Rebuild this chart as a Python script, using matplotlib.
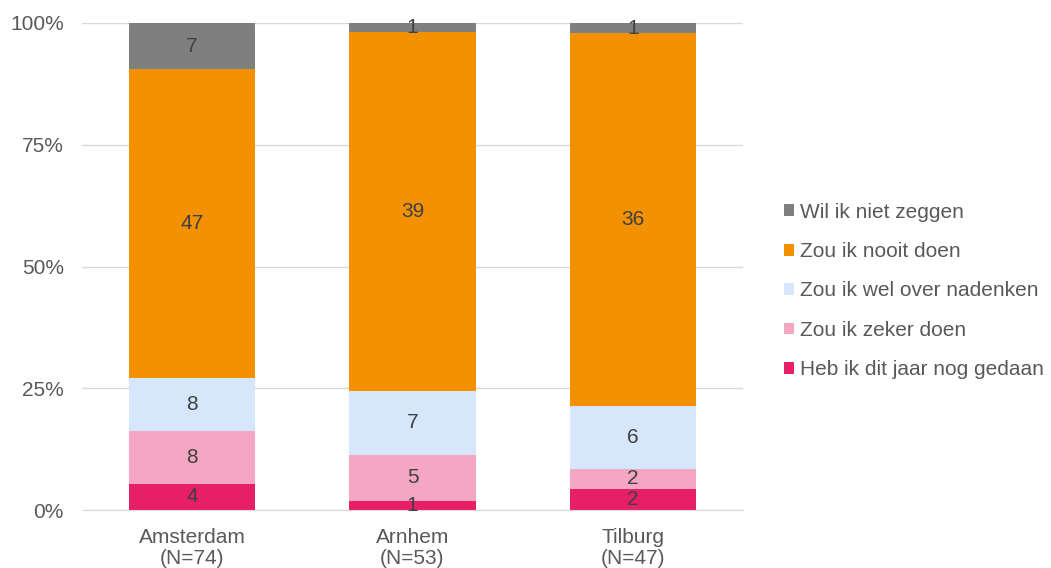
import numpy as np
import matplotlib.pyplot as plt

plt.rcParams['font.family'] = ['Liberation Sans', 'DejaVu Sans']

cities = ['Amsterdam\n(N=74)', 'Arnhem\n(N=53)', 'Tilburg\n(N=47)']
series = ['Heb ik dit jaar nog gedaan', 'Zou ik zeker doen',
          'Zou ik wel over nadenken', 'Zou ik nooit doen', 'Wil ik niet zeggen']
heb = [4, 1, 2]
zeker = [8, 5, 2]
nadenken = [8, 7, 6]
nooit = [47, 39, 36]
niet_zeggen = [7, 1, 1]
colors = ['#E71F67', '#F4A6C3', '#D6E6FB', '#F39100', '#7F7F7F']

counts = np.array([heb, zeker, nadenken, nooit, niet_zeggen], dtype=float)
totals = counts.sum(axis=0)
pct = counts / totals

txt = '#595959'
fs = 15
fig = plt.figure(figsize=(10.51, 5.68), dpi=100)
ax = fig.add_axes([82/1051, 1-510/568, 661/1051, 487/568])

x = np.arange(len(cities))
bottom = np.zeros(len(cities))
handles = []
for i in range(len(series)):
    b = ax.bar(x, pct[i], 0.573, bottom=bottom, color=colors[i], label=series[i], zorder=2)
    handles.append(b)
    for j in range(len(cities)):
        ax.text(x[j], bottom[j] + pct[i][j] / 2, '%d' % counts[i][j],
                ha='center', va='center', fontsize=fs, color='#404040', zorder=3)
    bottom += pct[i]

ax.set_xlim(-0.5, 2.5)
ax.set_ylim(0, 1)
ax.set_yticks([0, 0.25, 0.5, 0.75, 1.0])
ax.set_yticklabels(['0%', '25%', '50%', '75%', '100%'])
ax.set_xticks(x)
ax.set_xticklabels(cities, linespacing=1.1)
ax.yaxis.grid(True, color='#D9D9D9', linewidth=1, zorder=0)
ax.tick_params(axis='both', length=0, labelsize=fs, labelcolor=txt)
ax.tick_params(axis='y', pad=13)
ax.tick_params(axis='x', pad=13)
for s in ['top', 'right', 'left']:
    ax.spines[s].set_visible(False)
ax.spines['bottom'].set_color('#D9D9D9')

leg = fig.legend(handles[::-1], series[::-1], loc='center left',
                 bbox_to_anchor=(765/1051, 1-291/568), frameon=False,
                 fontsize=fs, handlelength=0.5, handleheight=0.5,
                 handletextpad=0.3, labelspacing=0.98)
for t in leg.get_texts():
    t.set_color(txt)

fig.savefig('out.png', dpi=100)
